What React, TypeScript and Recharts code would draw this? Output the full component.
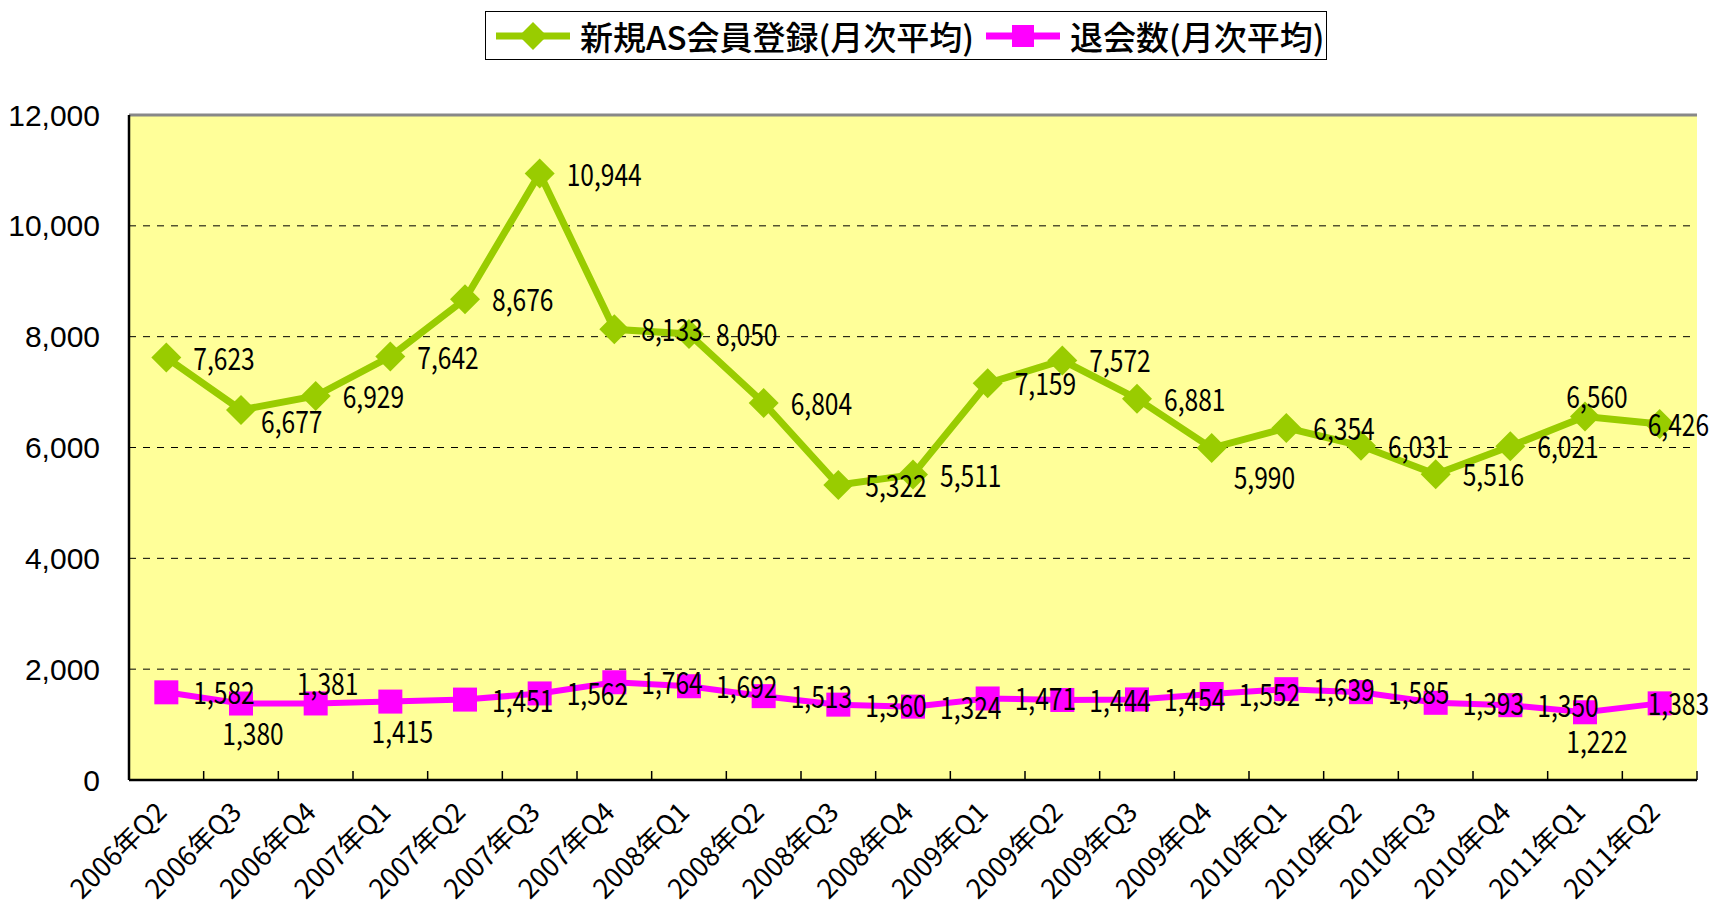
import React from "react"
import {
    LineChart,
    Line,
    XAxis,
    YAxis,
    CartesianGrid,
    ReferenceLine,
    LabelList,
} from "recharts"

const quarters = [
    "2006年Q2", "2006年Q3", "2006年Q4",
    "2007年Q1", "2007年Q2", "2007年Q3", "2007年Q4",
    "2008年Q1", "2008年Q2", "2008年Q3", "2008年Q4",
    "2009年Q1", "2009年Q2", "2009年Q3", "2009年Q4",
    "2010年Q1", "2010年Q2", "2010年Q3", "2010年Q4",
    "2011年Q1", "2011年Q2",
]

// 新規AS会員登録(月次平均)
const newMembers = [
    7623, 6677, 6929, 7642, 8676, 10944, 8133, 8050, 6804, 5322, 5511,
    7159, 7572, 6881, 5990, 6354, 6031, 5516, 6021, 6560, 6426,
]

// 退会数(月次平均)
const withdrawals = [
    1582, 1380, 1381, 1415, 1451, 1562, 1764, 1692, 1513, 1360, 1324,
    1471, 1444, 1454, 1552, 1639, 1585, 1393, 1350, 1222, 1383,
]

const yTicks = [0, 2000, 4000, 6000, 8000, 10000, 12000]

const GREEN = "#99CC00"
const PINK = "#FF00FF"
const JP = "'Noto Sans CJK JP', 'Noto Sans', sans-serif"

const CHART_W = 1717
const CHART_H = 912
const MARGIN = { top: 115, right: 20, bottom: 0, left: 0 }
const Y_W = 129
const BAND = (CHART_W - MARGIN.left - MARGIN.right - Y_W) / quarters.length

// where each data label sits next to its point (default: right)
const newLabelPlace: Record<number, string> = { 1: "low", 14: "lowright", 19: "above", 20: "over" }
const outLabelPlace: Record<number, string> = { 1: "below", 2: "above", 3: "below", 19: "below", 20: "over" }

const data = quarters.map((q, i) => ({
    quarter: q,
    newMembers: newMembers[i],
    withdrawals: withdrawals[i],
}))

function makeLabel(places: Record<number, string>) {
    return (props: any) => {
        const { x, y, value, index } = props
        const place = places[index] ?? "right"
        let dx = 27
        let dy = 12
        let anchor: "start" | "middle" | "end" = "start"
        if (place === "below") {
            dx = 12
            dy = 41
            anchor = "middle"
        } else if (place === "above") {
            dx = 12
            dy = -8
            anchor = "middle"
        } else if (place === "low") {
            dx = 20
            dy = 23
        } else if (place === "lowright") {
            dx = 22
            dy = 41
        } else if (place === "over") {
            dx = -12
            dy = 12
        }
        return (
            <g transform={`translate(${x + dx},${y + dy}) scale(0.82,1)`}>
                <text textAnchor={anchor} fontSize={30} fontFamily={JP} fill="#000">
                    {Number(value).toLocaleString("en-US")}
                </text>
            </g>
        )
    }
}

function Diamond(props: any) {
    const { cx, cy } = props
    const r = 15
    return (
        <path
            d={`M${cx},${cy - r} L${cx + r},${cy} L${cx},${cy + r} L${cx - r},${cy} Z`}
            fill={GREEN}
        />
    )
}

function Square(props: any) {
    const { cx, cy } = props
    const r = 12
    return <rect x={cx - r} y={cy - r} width={r * 2} height={r * 2} fill={PINK} />
}

function QuarterTick(props: any) {
    const { x, y, payload } = props
    const edge = x + BAND / 2
    return (
        <g>
            <line x1={edge} x2={edge} y1={y - 9} y2={y} stroke="#000" strokeWidth={1.5} />
            <text
                transform={`translate(${x + 2},${y + 34}) rotate(-45)`}
                textAnchor="end"
                fontSize={27}
                fontFamily={JP}
                fill="#000"
            >
                {payload.value}
            </text>
        </g>
    )
}

function LegendBox() {
    return (
        <div
            style={{
                position: "absolute",
                left: 485,
                top: 11,
                width: 840,
                height: 47,
                border: "1.5px solid #000",
                background: "#fff",
                display: "flex",
                alignItems: "center",
                fontFamily: JP,
                fontSize: 33,
                fontWeight: 500,
                color: "#000",
                whiteSpace: "nowrap",
            }}
        >
            <svg width={80} height={40} style={{ marginLeft: 8 }}>
                <line x1={2} x2={76} y1={20} y2={20} stroke={GREEN} strokeWidth={7} />
                <path d="M39,6 L53,20 L39,34 L25,20 Z" fill={GREEN} />
            </svg>
            <span style={{ marginLeft: 6, lineHeight: "40px" }}>新規AS会員登録(月次平均)</span>
            <svg width={80} height={40} style={{ marginLeft: 10 }}>
                <line x1={2} x2={76} y1={20} y2={20} stroke={PINK} strokeWidth={7} />
                <rect x={28} y={9} width={22} height={22} fill={PINK} />
            </svg>
            <span style={{ marginLeft: 6, lineHeight: "40px" }}>退会数(月次平均)</span>
        </div>
    )
}

export default function App() {
    return (
        <div style={{ position: "absolute", left: 0, top: 0, width: CHART_W, height: CHART_H, background: "#fff" }}>
            <LineChart width={CHART_W} height={CHART_H} data={data} margin={MARGIN}>
                <CartesianGrid
                    vertical={false}
                    stroke="#000"
                    strokeDasharray="7 7"
                    fill="#FFFF99"
                    fillOpacity={1}
                />
                <XAxis
                    dataKey="quarter"
                    scale="band"
                    height={CHART_H - MARGIN.top - 665}
                    axisLine={{ stroke: "#000", strokeWidth: 2.5 }}
                    tickLine={false}
                    tickSize={0}
                    tickMargin={0}
                    interval={0}
                    tick={<QuarterTick />}
                />
                <YAxis
                    width={Y_W}
                    domain={[0, 12000]}
                    ticks={yTicks}
                    interval={0}
                    axisLine={{ stroke: "#000", strokeWidth: 2.5 }}
                    tickLine={false}
                    tickSize={0}
                    tickMargin={29}
                    tickFormatter={(v: number) => v.toLocaleString("en-US")}
                    tick={{ fontSize: 30, fontFamily: "'Liberation Sans', Arial, sans-serif", fill: "#000" }}
                />
                <YAxis
                    yAxisId="frame"
                    orientation="right"
                    width={0}
                    domain={[0, 12000]}
                    tick={false}
                    tickLine={false}
                    axisLine={{ stroke: "#888", strokeWidth: 3 }}
                />
                <ReferenceLine y={12000} stroke="#888" strokeWidth={3} />
                <Line
                    dataKey="newMembers"
                    stroke={GREEN}
                    strokeWidth={7}
                    dot={(p: any) => <Diamond key={`d${p.index}`} {...p} />}
                    activeDot={false}
                    isAnimationActive={false}
                >
                    <LabelList dataKey="newMembers" content={makeLabel(newLabelPlace)} />
                </Line>
                <Line
                    dataKey="withdrawals"
                    stroke={PINK}
                    strokeWidth={6}
                    dot={(p: any) => <Square key={`s${p.index}`} {...p} />}
                    activeDot={false}
                    isAnimationActive={false}
                >
                    <LabelList dataKey="withdrawals" content={makeLabel(outLabelPlace)} />
                </Line>
            </LineChart>
            <LegendBox />
        </div>
    )
}
